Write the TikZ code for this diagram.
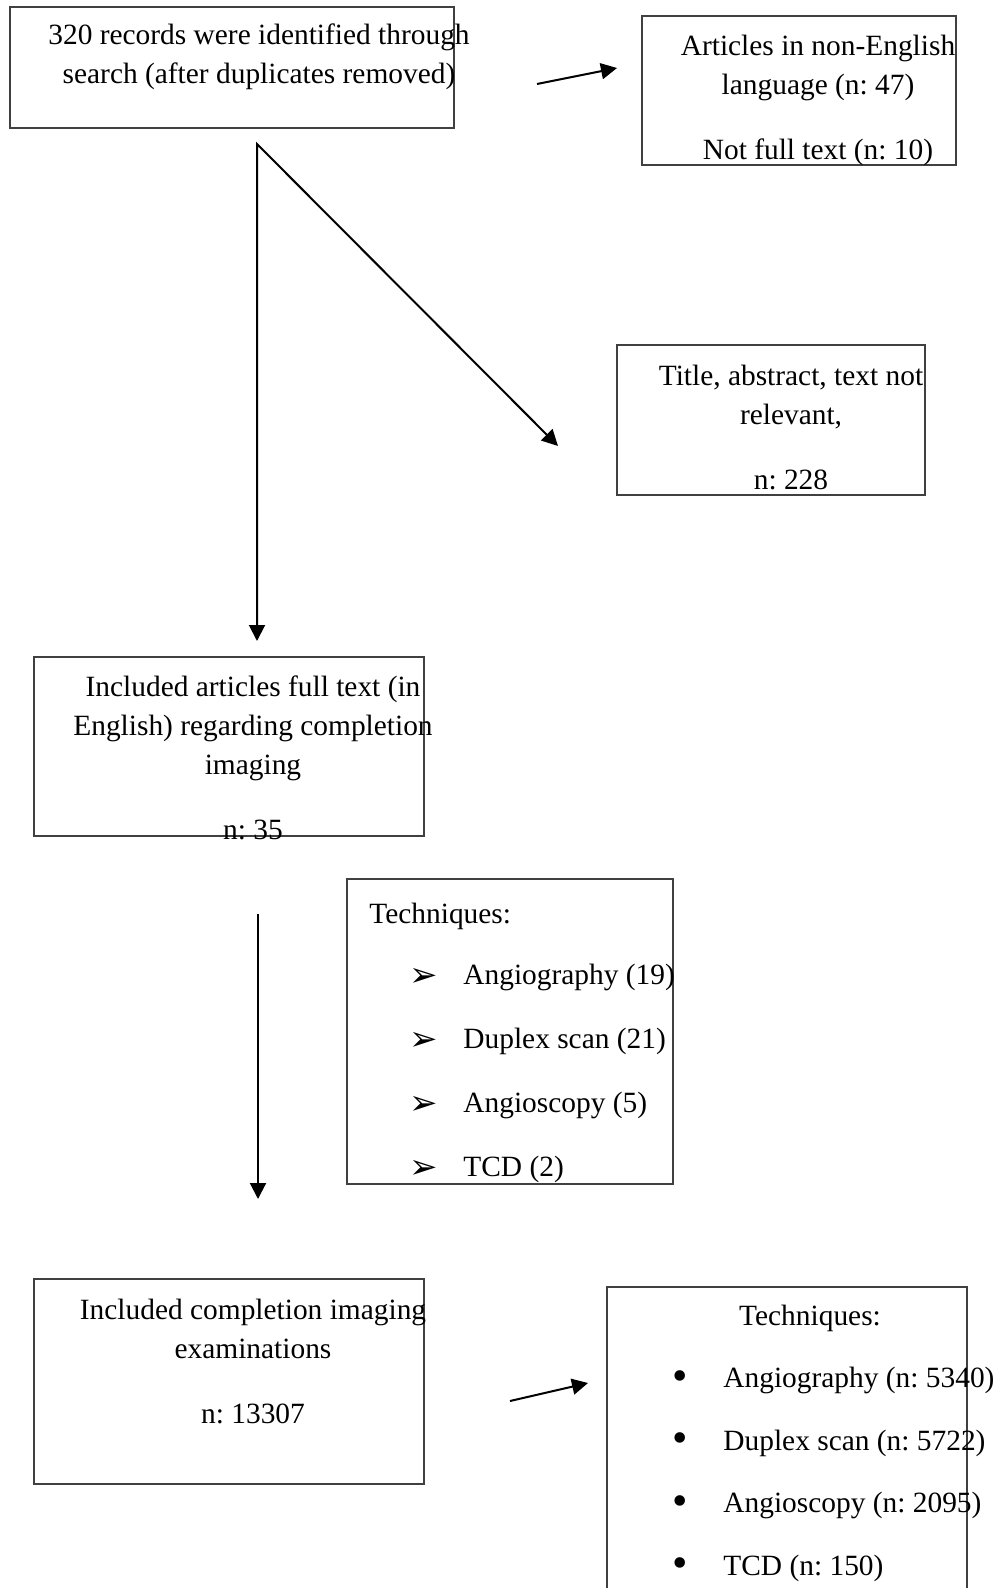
\documentclass[tikz,border=0pt]{standalone}
\usepackage{fontspec}
\setmainfont{Liberation Serif}
\newfontfamily\dingfont{DejaVu Sans}
\usetikzlibrary{arrows.meta,fit}
\frenchspacing
\tikzset{frame/.style = {draw = black!75,line width = .6pt,inner sep = 0pt},
txt/.style = {align = center,inner sep = 0pt,font = \fontsize{14.7}{19.5}\selectfont},
arrow/.style = {->,line width = 1pt}}

\begin{document}
\begin{tikzpicture}[x = .5pt,y = -.5pt,>={Triangle[length = 8pt,width = 8pt]}]
\clip (0,0) rectangle (996,1588);
\fill[white] (0,0) rectangle (996,1588);

\node[frame,fit = {(10,7) (454,128)}] (records) {};
\node[txt] (recordstxt) at (259,57) {320 records were identified through \\ search (after duplicates removed)};

\node[frame,fit = {(642,16) (956,165)}] (language) {};
\node[txt] (languagetxt) at (818,100) {Articles in non-English \\ language (n: 47) \\[13pt] Not full text (n: 10)};

\node[frame,fit = {(617,345) (925,495)}] (relevant) {};
\node[txt] (relevanttxt) at (791,428) {Title, abstract, text not \\ relevant, \\[13pt] n: 228};

\node[frame,fit = {(34,657) (424,836)}] (included) {};
\node[txt] (includedtxt) at (253,758) {Included articles full text (in \\ English) regarding completion \\ imaging \\[13pt] n: 35};

\node[frame,fit = {(347,879) (673,1184)}] (tech) {};
\node[txt,anchor = west] (techtxt) at (369,916) {Techniques:};
\foreach \lbl [count = \i] in {Angiography (19),Duplex scan (21),Angioscopy (5),TCD (2)}{
  \node[txt] (techmark\i) at (424,{913+64*\i}) {\dingfont\fontsize{17}{19}\selectfont ➢};
  \node[txt,anchor = west] (techitem\i) at (463,{913+64*\i}) {\lbl};
}

\node[frame,fit = {(34,1279) (424,1484)}] (exams) {};
\node[txt] (examstxt) at (253,1361) {Included completion imaging \\ examinations \\[13pt] n: 13307};

\node[frame,fit = {(607,1287) (967,1600)}] (examtech) {};
\node[txt] (examtechtxt) at (810,1318) {Techniques:};
\foreach \lbl [count = \i] in {Angiography (n: 5340),Duplex scan (n: 5722),Angioscopy (n: 2095),TCD (n: 150)}{
  \node[txt] (exammark\i) at (680,{1318+62.5*\i}) {\fontsize{22}{24}\selectfont •};
  \node[txt,anchor = west] (examitem\i) at (723,{1318+62.5*\i}) {\lbl};
}

% free ends of the connectors
\coordinate (langout) at (537,84);
\coordinate (langin) at (617,68);
\coordinate (split) at (257,144);
\coordinate (relevantin) at (558,446);
\coordinate (includedin) at (257,641);
\coordinate (techout) at (258,914);
\coordinate (techin) at (258,1199);
\coordinate (examout) at (510,1401);
\coordinate (examin) at (588,1383);

\draw[arrow] (langout) -- (langin);
\draw[<->,line width = 1pt] (relevantin) -- (split) -- (includedin);
\draw[arrow] (techout) -- (techin);
\draw[arrow] (examout) -- (examin);
\end{tikzpicture}
\end{document}
